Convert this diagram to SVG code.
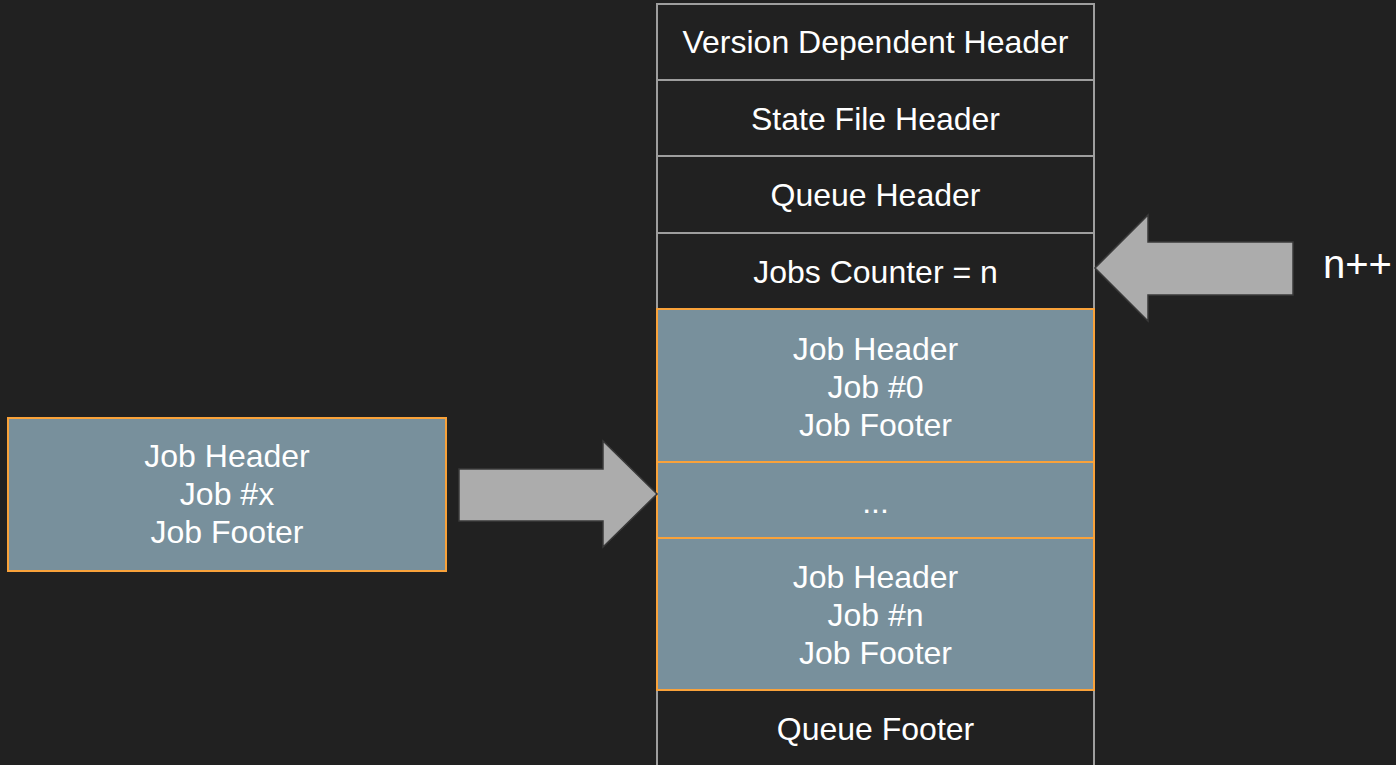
<svg xmlns="http://www.w3.org/2000/svg" width="1396" height="765" viewBox="0 0 1396 765">
<style>
.bg{fill:#212121}
.row{fill:#212121;stroke:#9e9e9e;stroke-width:2}
.job{fill:#78909c;stroke:#f9a23a;stroke-width:2}
.t{fill:#ffffff;font-size:32px;text-anchor:middle}
.arrow{fill:#acacac;stroke:#3a3a3a;stroke-width:1.5;stroke-linejoin:miter}
</style>
<rect class="bg" x="0" y="0" width="1396" height="765"/>
<g font-family="Liberation Sans, Arial, Helvetica, sans-serif">
<g id="version-header"><rect class="row" x="657" y="4" width="437" height="76"/><text class="t" x="875.5" y="53">Version Dependent Header</text></g>
<g id="state-file-header"><rect class="row" x="657" y="80" width="437" height="76"/><text class="t" x="875.5" y="130">State File Header</text></g>
<g id="queue-header"><rect class="row" x="657" y="156" width="437" height="77"/><text class="t" x="875.5" y="206">Queue Header</text></g>
<g id="jobs-counter"><rect class="row" x="657" y="233" width="437" height="76"/><text class="t" x="875.5" y="283">Jobs Counter = n</text></g>
<g id="queue-footer"><rect class="row" x="657" y="690" width="437" height="80"/><text class="t" x="875.5" y="740">Queue Footer</text></g>
<g id="job-0"><rect class="job" x="657" y="309" width="437" height="153"/><text class="t" x="875.5" y="360">Job Header</text><text class="t" x="875.5" y="398">Job #0</text><text class="t" x="875.5" y="436">Job Footer</text></g>
<g id="job-dots"><rect class="job" x="657" y="462" width="437" height="76"/><text class="t" x="875.5" y="513">...</text></g>
<g id="job-n"><rect class="job" x="657" y="538" width="437" height="152"/><text class="t" x="875.5" y="588">Job Header</text><text class="t" x="875.5" y="626">Job #n</text><text class="t" x="875.5" y="664">Job Footer</text></g>
<g id="job-x"><rect class="job" x="8" y="418" width="438" height="153"/><text class="t" x="227" y="467">Job Header</text><text class="t" x="227" y="505">Job #x</text><text class="t" x="227" y="543">Job Footer</text></g>
<g id="n-plus-plus"><text class="t" x="1323" y="278" style="text-anchor:start;font-size:40px">n++</text></g>
</g>
<g id="connectors">
<path class="arrow" d="M459,469 L603,469 L603,441 L657,494 L603,547 L603,521 L459,521 Z"/>
<path class="arrow" d="M1293,242 L1148,242 L1148,215 L1095,268 L1148,321 L1148,295 L1293,295 Z"/>
</g>
</svg>
